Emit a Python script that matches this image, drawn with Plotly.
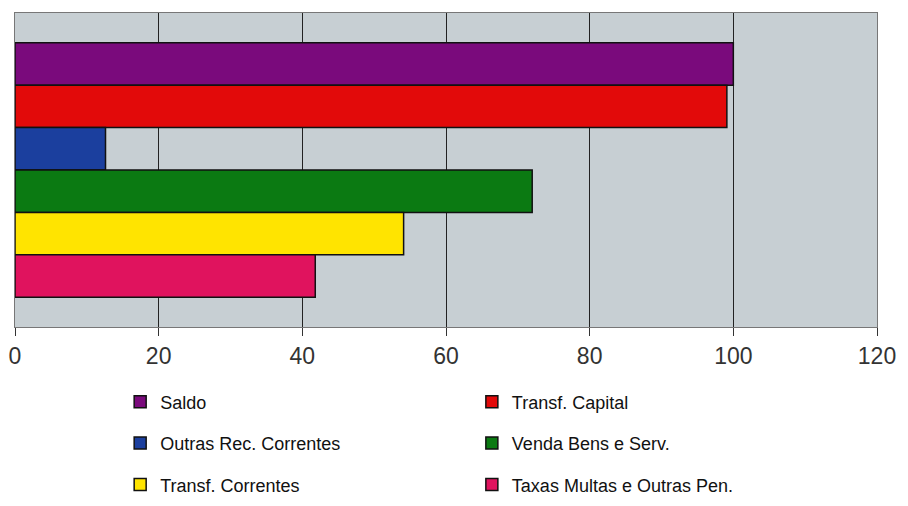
import plotly.graph_objects as go

# Series (top to bottom in the chart)
series = ["Saldo", "Transf. Capital", "Outras Rec. Correntes",
          "Venda Bens e Serv.", "Transf. Correntes", "Taxas Multas e Outras Pen."]
values = [100, 99.1, 12.6, 72.0, 54.1, 41.8]
colors = ["#7a0a7c", "#e20a0a", "#1b3f9e", "#0b7a12", "#ffe400", "#e0135e"]
legend_col = ["legend", "legend2", "legend", "legend2", "legend", "legend2"]
category = [""]

tick_vals = [0, 20, 40, 60, 80, 100, 120]

fig = go.Figure()
for name, val, col, lg in zip(series, values, colors, legend_col):
    fig.add_trace(go.Bar(
        y=category,
        x=[val],
        name=name,
        orientation="h",
        marker=dict(color=col, line=dict(color="#111111", width=1.5)),
        legend=lg,
        legendgroup=name,
        hoverinfo="x+name",
    ))

legend_style = dict(
    font=dict(family="Liberation Sans, Arial, sans-serif", size=18, color="#111111"),
    bgcolor="rgba(0,0,0,0)",
    tracegroupgap=15,
    itemwidth=30,
    yanchor="top",
    xanchor="left",
)

# page body has an 8px margin, margins below compensate for it
fig.update_layout(
    width=908,
    height=506,
    margin=dict(l=7, r=39, t=5, b=187, autoexpand=False),
    paper_bgcolor="white",
    plot_bgcolor="#c7cfd3",
    barmode="group",
    bargap=0.19,
    bargroupgap=0,
    xaxis=dict(
        range=[0, 120],
        tickvals=tick_vals,
        automargin=False,
        showgrid=True,
        gridcolor="#222222",
        gridwidth=1,
        zeroline=False,
        showline=True,
        linecolor="#777777",
        linewidth=1,
        mirror=True,
        ticks="outside",
        ticklen=8,
        tickcolor="#333333",
        tickfont=dict(family="Liberation Sans, Arial, sans-serif", size=23, color="#333333"),
        fixedrange=True,
    ),
    yaxis=dict(
        autorange="reversed",
        automargin=False,
        showticklabels=False,
        showgrid=False,
        showline=True,
        linecolor="#777777",
        linewidth=1,
        mirror=True,
        ticks="",
        fixedrange=True,
    ),
    legend=dict(x=0.122, y=-0.18, **legend_style),
    legend2=dict(x=0.530, y=-0.18, **legend_style),
)

fig.write_html("out.html")
